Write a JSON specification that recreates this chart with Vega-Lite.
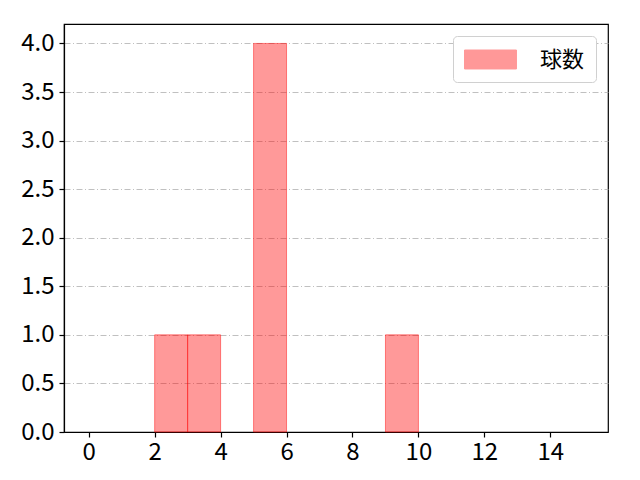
{
  "$schema": "https://vega.github.io/schema/vega-lite/v6.json",
  "width": 544,
  "height": 408,
  "autosize": {"type": "none"},
  "padding": {"left": 64, "top": 24, "right": 32, "bottom": 48},
  "background": "white",
  "config": {
    "font": "Noto Sans CJK JP",
    "view": {"stroke": "black", "strokeWidth": 1.2},
    "axis": {
      "labelFont": "Noto Sans CJK JP",
      "labelFontSize": 24,
      "labelColor": "black",
      "tickColor": "black",
      "tickSize": 5,
      "tickWidth": 1.2,
      "domainColor": "black",
      "domainWidth": 1.2,
      "title": null
    }
  },
  "data": {
    "values": [
      {"start": 2, "end": 3, "count": 1, "series": "球数"},
      {"start": 3, "end": 4, "count": 1, "series": "球数"},
      {"start": 5, "end": 6, "count": 4, "series": "球数"},
      {"start": 9, "end": 10, "count": 1, "series": "球数"}
    ]
  },
  "mark": {
    "type": "bar",
    "fillOpacity": 0.4,
    "stroke": "#ff0000",
    "strokeOpacity": 0.45,
    "strokeWidth": 1
  },
  "encoding": {
    "x": {
      "field": "start",
      "type": "quantitative",
      "scale": {"domain": [-0.75, 15.75], "nice": false, "zero": false},
      "axis": {
        "values": [0, 2, 4, 6, 8, 10, 12, 14],
        "grid": false,
        "labelPadding": 3,
        "labelFlush": false,
        "labelOverlap": false
      }
    },
    "x2": {"field": "end"},
    "y": {
      "field": "count",
      "type": "quantitative",
      "scale": {"domain": [0, 4.2], "nice": false},
      "axis": {
        "values": [0, 0.5, 1, 1.5, 2, 2.5, 3, 3.5, 4],
        "format": ".1f",
        "grid": true,
        "gridColor": "#b0b0b0",
        "gridWidth": 0.8,
        "gridDash": [6, 2.5, 1, 2.5],
        "labelPadding": 5,
        "labelFlush": false,
        "labelOverlap": false
      }
    },
    "y2": {"datum": 0},
    "color": {
      "field": "series",
      "type": "nominal",
      "scale": {"domain": ["球数"], "range": ["red"]},
      "legend": {
        "title": null,
        "orient": "top-right",
        "offset": 12,
        "padding": 11,
        "strokeColor": "#d0d0d0",
        "fillColor": "white",
        "cornerRadius": 4,
        "symbolType": "M-1,-0.79H3.33V0.79H-1Z",
        "symbolSize": 576,
        "symbolOpacity": 0.4,
        "symbolStrokeColor": "red",
        "symbolStrokeWidth": 1,
        "labelFont": "Noto Sans CJK JP",
        "labelFontSize": 22,
        "labelColor": "black",
        "labelOffset": 51,
        "symbolOffset": 0
      }
    }
  }
}
